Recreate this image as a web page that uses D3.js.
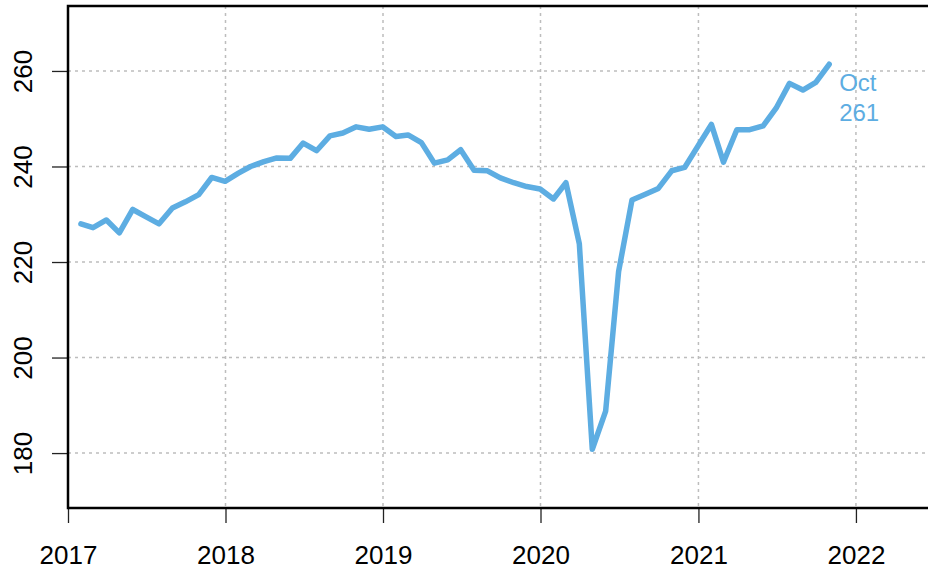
<!DOCTYPE html>
<html>
<head>
<meta charset="utf-8">
<script src="https://cdn.jsdelivr.net/npm/d3@7"></script>
<style>
  html, body { margin: 0; padding: 0; background: #fff; }
  svg { display: block; font-family: "Liberation Sans", Arial, sans-serif; }
</style>
</head>
<body>
<svg id="chart"></svg>
<script>
// Monthly values, Jan 2017 - Oct 2021
const startYear = 2017;
const values2017 = [228.0, 227.2, 228.8, 226.1, 231.0, 229.5, 228.0, 231.3, 232.6, 234.1, 237.7, 236.9];
const values2018 = [238.6, 240.0, 241.0, 241.8, 241.7, 244.9, 243.3, 246.4, 247.0, 248.3, 247.8, 248.3];
const values2019 = [246.3, 246.6, 245.0, 240.7, 241.4, 243.5, 239.2, 239.1, 237.6, 236.6, 235.8, 235.3];
const values2020 = [233.2, 236.6, 223.8, 180.8, 188.8, 218.0, 233.0, 234.2, 235.4, 239.1, 239.8, 244.3];
const values2021 = [248.8, 240.9, 247.7, 247.7, 248.5, 252.2, 257.4, 256.0, 257.6, 261.4];

const yTicks = [180, 200, 220, 240, 260];
const xTickYears = [2017, 2018, 2019, 2020, 2021, 2022];
const lastLabel = "Oct";

const values = [].concat(values2017, values2018, values2019, values2020, values2021);
// each month is placed at its last day
const data = values.map((v, i) => ({ date: new Date(startYear, i + 1, 0), value: v }));

// Dimensions
const svgWidth = 928;
const svgHeight = 572;
const margin = { top: 6, right: 0, bottom: 64, left: 68 };
const width = svgWidth - margin.left - margin.right;
const height = svgHeight - margin.top - margin.bottom;

const lineColor = "#5dade2";

const svg = d3.select("#chart")
  .attr("width", svgWidth)
  .attr("height", svgHeight);

const g = svg.append("g")
  .attr("transform", `translate(${margin.left},${margin.top})`);

// Scales
const x = d3.scaleTime()
  .domain([new Date(2017, 0, 1), new Date(2022, 5, 17)])
  .range([0, width]);

const y = d3.scaleLinear()
  .domain([168.5, 273.6])
  .range([height, 0]);

const tickDates = xTickYears.map((yr) => new Date(yr, 0, 1));

// Grid lines
g.append("g")
  .selectAll("line")
  .data(yTicks)
  .join("line")
  .attr("x1", 0)
  .attr("x2", width)
  .attr("y1", (d) => y(d))
  .attr("y2", (d) => y(d))
  .attr("stroke", "#bdbdbd")
  .attr("stroke-width", 1.5)
  .attr("stroke-dasharray", "3,4");

g.append("g")
  .selectAll("line")
  .data(tickDates)
  .join("line")
  .attr("x1", (d) => x(d))
  .attr("x2", (d) => x(d))
  .attr("y1", 0)
  .attr("y2", height)
  .attr("stroke", "#bdbdbd")
  .attr("stroke-width", 1.5)
  .attr("stroke-dasharray", "3,4");

// Axes
const xAxis = g.append("g")
  .attr("transform", `translate(0,${height})`)
  .call(d3.axisBottom(x).tickValues(tickDates).tickFormat(d3.timeFormat("%Y")).tickSize(15).tickPadding(23));
xAxis.select(".domain").remove();
xAxis.selectAll("line").attr("stroke", "#222").attr("stroke-width", 1.3);
xAxis.selectAll("text").attr("fill", "#000").style("font-size", "26px");

const yAxis = g.append("g")
  .call(d3.axisLeft(y).tickValues(yTicks).tickSize(16).tickPadding(0));
yAxis.select(".domain").remove();
yAxis.selectAll("line").attr("stroke", "#222").attr("stroke-width", 1.3);
yAxis.selectAll("text")
  .attr("fill", "#000")
  .style("font-size", "26px")
  .attr("text-anchor", "middle")
  .attr("x", null)
  .attr("dy", null)
  .attr("transform", "translate(-36,0) rotate(-90)");

// Box (left, top, bottom; right edge runs off the page)
g.append("rect")
  .attr("x", 0)
  .attr("y", 0)
  .attr("width", width + 20)
  .attr("height", height)
  .attr("fill", "none")
  .attr("stroke", "#000")
  .attr("stroke-width", 2.5);

// Line
const line = d3.line()
  .x((d) => x(d.date))
  .y((d) => y(d.value));

g.append("path")
  .datum(data)
  .attr("fill", "none")
  .attr("stroke", lineColor)
  .attr("stroke-width", 5.5)
  .attr("stroke-linejoin", "round")
  .attr("stroke-linecap", "round")
  .attr("d", line);

// End label
const last = data[data.length - 1];
const label = g.append("text")
  .attr("x", x(last.date) + 10)
  .attr("y", y(last.value) + 27)
  .attr("fill", lineColor)
  .style("font-size", "24px");
label.append("tspan").text(lastLabel);
label.append("tspan")
  .attr("x", x(last.date) + 10)
  .attr("dy", 30)
  .text(Math.floor(last.value));
</script>
</body>
</html>
